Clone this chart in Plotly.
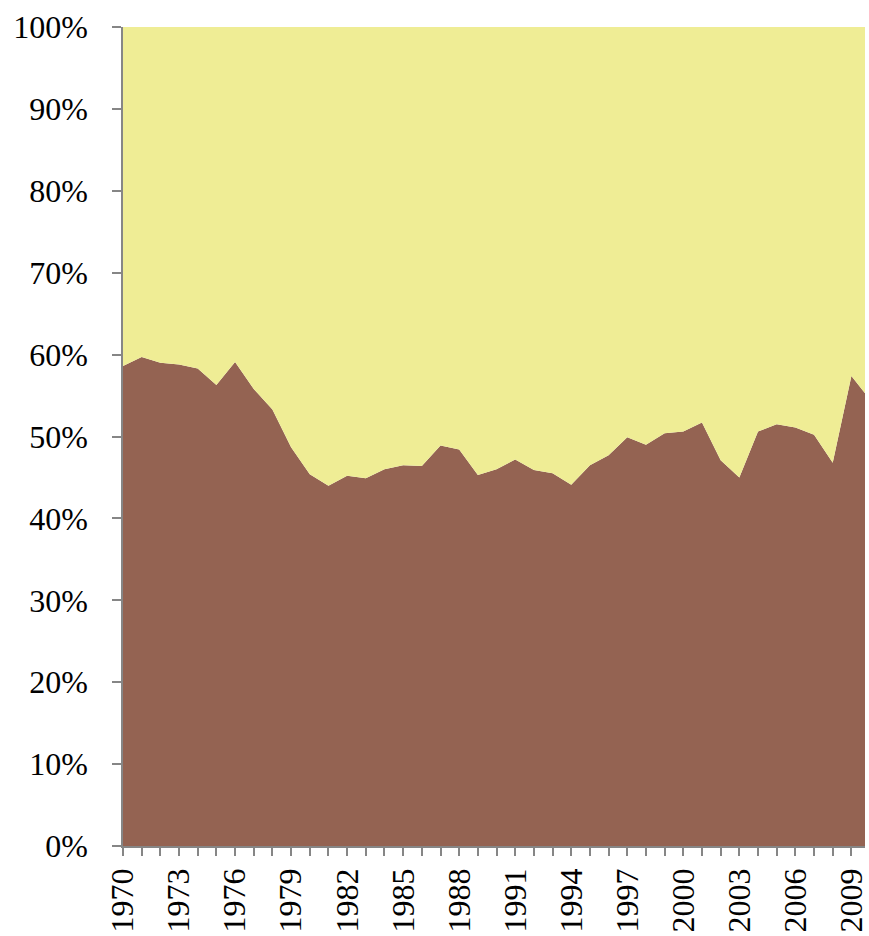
import plotly.graph_objects as go

years = list(range(1970, 2011))
bottom_share = [58.6, 59.7, 59.0, 58.8, 58.3, 56.3, 59.1, 55.8, 53.3, 48.7,
                45.4, 44.0, 45.2, 44.9, 46.0, 46.5, 46.4, 48.9, 48.4, 45.3,
                46.0, 47.2, 45.9, 45.5, 44.1, 46.5, 47.7, 49.9, 49.0, 50.4,
                50.6, 51.7, 47.1, 45.0, 50.6, 51.5, 51.1, 50.2, 46.8, 57.4,
                54.5]
top_share = [round(100 - v, 1) for v in bottom_share]
tick_text = [str(y) if (y - 1970) % 3 == 0 else "" for y in years]

fig = go.Figure()
fig.add_trace(go.Scatter(x=years, y=bottom_share, stackgroup="one", mode="none",
                         fillcolor="#946352", name="bottom"))
fig.add_trace(go.Scatter(x=years, y=top_share, stackgroup="one", mode="none",
                         fillcolor="#EFED95", name="top"))

font = dict(family="Liberation Serif, Times New Roman, serif", size=32, color="#000000")
fig.update_layout(
    width=869, height=936,
    margin=dict(l=123, r=0, t=27, b=90),
    paper_bgcolor="white", plot_bgcolor="white",
    showlegend=False,
    font=font,
)
fig.update_xaxes(
    range=[1970, 1970 + (869 - 123.3) / 18.77],
    tickmode="array", tickvals=years, ticktext=tick_text,
    tickangle=-90, ticks="outside", ticklen=8, tickcolor="#868686", tickwidth=1.5,
    showline=True, linecolor="#868686", linewidth=1.5,
    showgrid=False, zeroline=False, tickfont=font,
    ticklabeloverflow="allow",
)
fig.update_yaxes(
    range=[0, 100], dtick=10, ticksuffix="%",
    ticks="outside", ticklen=9, tickcolor="#868686", tickwidth=1.5,
    showline=True, linecolor="#868686", linewidth=1.5,
    showgrid=False, zeroline=False, tickfont=font,
    ticklabelstandoff=18,
)
fig.write_html(
    "out.html",
    config={"displayModeBar": False},
    post_script="document.body.style.margin='0';document.body.style.overflow='hidden';",
)
